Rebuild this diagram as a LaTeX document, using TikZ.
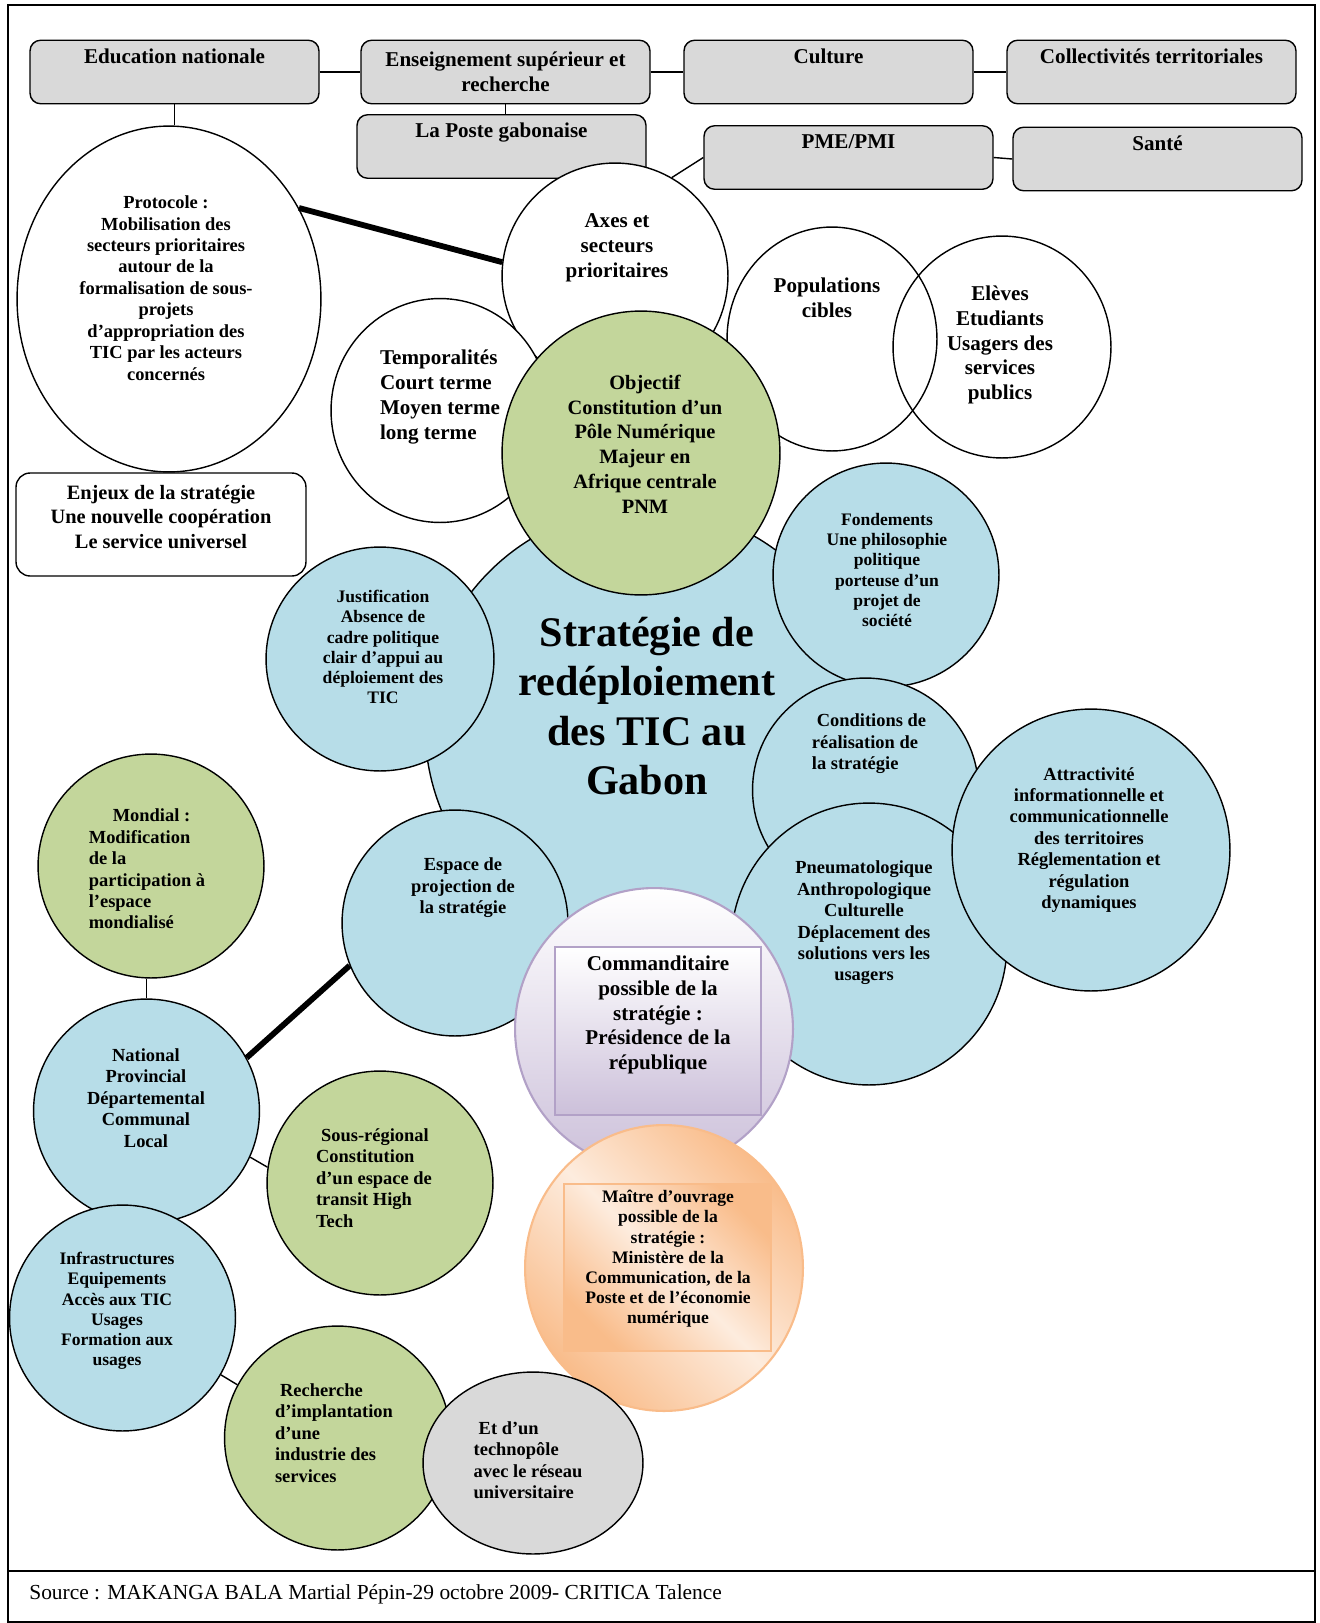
\documentclass[tikz,border=0pt]{standalone}
\usepackage{fontspec}
\setmainfont{Liberation Serif}
\usetikzlibrary{shapes.geometric}

\definecolor{boxgray}{RGB}{217,217,217}
\definecolor{bubblue}{RGB}{183,221,232}
\definecolor{bubgreen}{RGB}{195,214,155}
\definecolor{bubgray}{RGB}{217,217,217}
\definecolor{lilac}{RGB}{204,192,218}
\definecolor{lilacline}{RGB}{178,161,199}
\definecolor{peach}{RGB}{249,188,138}
\definecolor{peachlight}{RGB}{253,236,222}

\begin{document}
\begin{tikzpicture}[
	x=0.02cm, y=-0.02cm,
	sect/.style={
		draw, thick, fill=boxgray, rectangle, rounded corners=6pt,
		minimum width=5.78cm, minimum height=1.27cm,
		font=\bfseries\fontsize{12}{14}\selectfont, align=center, inner sep=2pt
	},
	panel/.style={
		draw, thick, rectangle, rounded corners=8pt,
		minimum width=5.8cm, minimum height=2.06cm
	},
	bub/.style 2 args={
		ellipse, draw, thick, inner sep=0pt,
		minimum width=#1*0.04cm, minimum height=#2*0.04cm
	},
	peachy/.style={
		draw=peach, line width=1.2pt,
		left color=peach, right color=peach, middle color=peachlight, shading angle=135
	},
	tx/.style={align=center, inner sep=0pt, font=\bfseries\fontsize{10.5}{12.2}\selectfont},
	txs/.style={align=center, inner sep=0pt, font=\bfseries\fontsize{10}{11.5}\selectfont},
	txl/.style={align=center, inner sep=0pt, font=\bfseries\fontsize{12}{14.1}\selectfont},
	link/.style={thick},
	fat/.style={line width=3.3pt},
	]
	\useasboundingbox (0,0) rectangle (1319,1623);
	
	% Frame and source
	\draw[line width=1pt] (8,5) rectangle (1315,1622);
	\draw[line width=1pt] (8,1571) -- (1315,1571);
	\node[anchor=west, inner sep=0pt, font=\fontsize{12.2}{14}\selectfont]
	(src) at (29,1594) {Source : MAKANGA BALA Martial Pépin-29 octobre 2009- CRITICA Talence};
	
	% Sector boxes (top rows)
	\node[sect] (edu)   at (174.5,72)   {Education nationale\\\strut};
	\node[sect] (ens)   at (505.5,72)   {Enseignement supérieur et\\recherche};
	\node[sect] (cult)  at (828.5,72)   {Culture\\\strut};
	\node[sect] (coll)  at (1151.5,72)  {Collectivités territoriales\\\strut};
	\node[sect] (poste) at (501.5,146.5) {La Poste gabonaise\\\strut};
	\node[sect] (pme)   at (848.5,157.5) {PME/PMI\\\strut};
	\node[sect] (sante) at (1157.5,159) {Santé\\\strut};
	
	% White bubbles (upper half)
	\node[bub={152}{173}, fill=white] (proto) at (169,299) {};
	\node[bub={113}{113}, fill=white] (axes)  at (615,276) {};
	\node[bub={105}{112}] (popu) at (832,339) {};
	\node[bub={109}{111}] (elev) at (1002,347) {};
	\node[bub={109}{112}, fill=white] (temp) at (440,410.5) {};
	\node[panel] (enjeux) at (161,524.5) {};
	
	% Central bubble and its ring
	\node[bub={220}{220}, fill=bubblue] (strat) at (645,727) {};
	\node[bub={139}{142}, fill=bubgreen] (obj) at (641,453) {};
	\node[bub={114}{112}, fill=bubblue] (just) at (380,659) {};
	\node[bub={113}{112}, fill=bubblue] (fond) at (886,575) {};
	\node[bub={113}{112}, fill=bubblue] (cond) at (865.5,790) {};
	\node[bub={138}{141}, fill=bubblue] (pneu) at (869,944) {};
	\node[bub={139}{141}, fill=bubblue] (attr) at (1091,850) {};
	\node[bub={113}{113}, fill=bubblue] (espace) at (455,923) {};
	
	% Sponsor and project owner
	\node[bub={139}{141}, draw=lilacline, line width=1.2pt,
	top color=white, bottom color=lilac] (comm) at (654,1029) {};
	\node[draw=lilacline, line width=1.6pt, top color=white, bottom color=lilac,
	minimum width=4.12cm, minimum height=3.36cm, inner sep=0pt] (commbox) at (658,1031) {};
	\node[bub={139}{143}, peachy] (moa) at (664,1268) {};
	\node[peachy, minimum width=4.14cm, minimum height=3.34cm, inner sep=0pt] (moabox) at (667.5,1267.5) {};
	
	% Scales (lower left)
	\node[bub={113}{112}, fill=bubgreen] (mond) at (151,866) {};
	\node[bub={113}{112}, fill=bubblue]  (nat)  at (146.5,1111) {};
	\node[bub={113}{112}, fill=bubgreen] (sous) at (380,1183) {};
	\node[bub={113}{113}, fill=bubblue]  (infra) at (122.5,1318) {};
	\node[bub={113}{112}, fill=bubgreen] (rech) at (337.5,1438) {};
	\node[bub={110}{91},  fill=bubgray]  (techno) at (533,1463) {};
	
	% Texts
	\node[tx] (protoT) at (166,288) {Protocole :\\Mobilisation des\\secteurs prioritaires\\autour de la\\formalisation de sous-\\projets\\d’appropriation des\\TIC par les acteurs\\concernés};
	\node[txl] (axesT) at (617,248) {Axes et\\secteurs\\prioritaires};
	\node[txl] (popuT) at (827,298) {Populations\\cibles};
	\node[txl] (elevT) at (1000,345) {Elèves\\Etudiants\\Usagers des\\services\\publics};
	\node[txl, align=left] (tempT) at (440,397) {Temporalités\\Court terme\\Moyen terme\\long terme};
	\node[txl, font=\bfseries\fontsize{11.6}{14.1}\selectfont] (objT) at (645,444) {Objectif\\Constitution d’un\\Pôle Numérique\\Majeur en\\Afrique centrale\\PNM};
	\node[font=\bfseries\fontsize{11.6}{14.1}\selectfont, align=center, inner sep=0pt]
	(enjeuxT) at (161,517) {Enjeux de la stratégie\\Une nouvelle coopération\\Le service universel};
	\node[align=center, inner sep=0pt, font=\bfseries\fontsize{24}{28}\selectfont]
	(stratT) at (647,706) {Stratégie de\\redéploiement\\des TIC au\\Gabon};
	\node[txs] (justT) at (383,647) {Justification\\Absence de\\cadre politique\\clair d’appui au\\déploiement des\\TIC};
	\node[txs] (fondT) at (887,570) {Fondements\\Une philosophie\\politique\\porteuse d’un\\projet de\\société};
	\node[tx, align=left] (condT) at (869,744) {\hspace*{0.1cm}Conditions de\\réalisation de\\la stratégie};
	\node[tx] (attrT) at (1089,840) {Attractivité\\informationnelle et\\communicationnelle\\des territoires\\Réglementation et\\régulation\\dynamiques};
	\node[tx] (pneuT) at (864,923) {Pneumatologique\\Anthropologique\\Culturelle\\Déplacement des\\solutions vers les\\usagers};
	\node[tx] (espaceT) at (463,888) {Espace de\\projection de\\la stratégie};
	\node[txl] (commT) at (658,1015) {Commanditaire\\possible de la\\stratégie :\\Présidence de la\\république};
	\node[txs] (moaT) at (668,1259) {Maître d’ouvrage\\possible de la\\stratégie :\\Ministère de la\\Communication, de la\\Poste et de l’économie\\numérique};
	\node[tx, align=left] (mondT) at (147,869) {\hspace*{0.48cm}Mondial :\\Modification\\de la\\participation à\\l’espace\\mondialisé};
	\node[tx] (natT) at (146,1098) {National\\Provincial\\Départemental\\Communal\\Local};
	\node[tx, align=left] (sousT) at (374,1178) {\hspace*{0.1cm}Sous-régional\\Constitution\\d’un espace de\\transit High\\Tech};
	\node[txs] (infraT) at (117,1311) {Infrastructures\\Equipements\\Accès aux TIC\\Usages\\Formation aux\\usages};
	\node[tx, align=left] (rechT) at (334,1433) {\hspace*{0.1cm}Recherche\\d’implantation\\d’une\\industrie des\\services};
	\node[tx, align=left] (technoT) at (528,1460) {\hspace*{0.1cm}Et d’un\\technopôle\\avec le réseau\\universitaire};
	
	% Connectors
	\draw[link] (edu.east)  -- (ens.west);
	\draw[link] (ens.east)  -- (cult.west);
	\draw[link] (cult.east) -- (coll.west);
	\draw[link] (ens.south) -- (ens.south |- poste.north);
	\draw[link] (edu.south) -- (edu.south |- proto.north);
	\draw[link] (pme.west)  -- (axes.60);
	\draw[link] (pme.east)  -- (sante.west);
	\draw[fat]  (proto.35)  -- (axes.173);
	\draw[link] (nat.north |- mond.south) -- (nat.north);
	\draw[fat]  (nat.28)    -- (espace.202);
	\draw[link] (nat.-24)   -- (sous.172);
	\draw[link] (infra.-30) -- (rech.152);
	
\end{tikzpicture}
\end{document}
